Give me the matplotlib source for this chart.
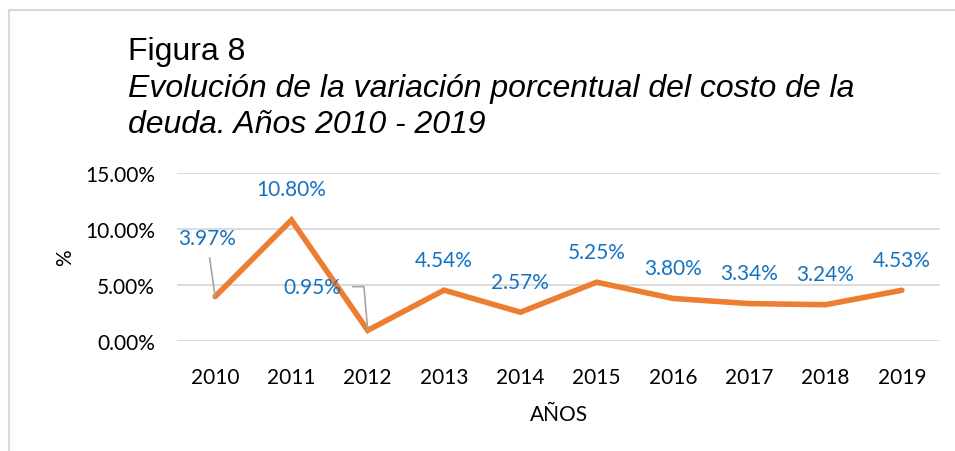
import matplotlib
matplotlib.use('Agg')
import matplotlib.pyplot as plt
from matplotlib.lines import Line2D

# datos de la figura 8
anios = ['2010', '2011', '2012', '2013', '2014', '2015', '2016', '2017', '2018', '2019']
variacion = [3.97, 10.80, 0.95, 4.54, 2.57, 5.25, 3.80, 3.34, 3.24, 4.53]
etiquetas = ['3.97%', '10.80%', '0.95%', '4.54%', '2.57%', '5.25%', '3.80%', '3.34%', '3.24%', '4.53%']
y_ticks = [0, 5, 10, 15]
y_tick_labels = ['0.00%', '5.00%', '10.00%', '15.00%']

NARANJA = '#ED7D31'
AZUL = '#1572C2'
GRIS = '#D9D9D9'
FS = 15

fig = plt.figure(figsize=(9.55, 4.52), dpi=100)
W, H = 955, 452

# marco del grafico
fig.add_artist(Line2D([9 / W, 1], [1 - 10.5 / H, 1 - 10.5 / H], color=GRIS, lw=1.5))
fig.add_artist(Line2D([9 / W, 9 / W], [0, 1 - 10.5 / H], color=GRIS, lw=1.5))

# titulo
fig.text(128 / W, 1 - 60 / H, 'Figura 8', fontsize=23, family='Liberation Sans')
fig.text(128 / W, 1 - 97 / H, 'Evolución de la variación porcentual del costo de la',
         fontsize=23, family='Liberation Sans', style='italic')
fig.text(128 / W, 1 - 133 / H, 'deuda. Años 2010 - 2019',
         fontsize=23, family='Liberation Sans', style='italic')

ax = fig.add_axes([177 / W, 1 - 342 / H, (940 - 177) / W, (342 - 174) / H])
x = list(range(len(anios)))
ax.plot(x, variacion, color=NARANJA, lw=4, solid_capstyle='round', solid_joinstyle='miter', zorder=3)

ax.set_xlim(-0.5, len(anios) - 0.5)
ax.set_ylim(0, 15)
ax.set_yticks(y_ticks)
ax.set_yticklabels(y_tick_labels)
ax.set_xticks(x)
ax.set_xticklabels(anios)
for s in ax.spines.values():
    s.set_visible(False)
ax.grid(axis='y', color=GRIS, lw=1.3)
ax.set_axisbelow(True)
ax.tick_params(length=0, labelsize=FS)
for lab in ax.get_xticklabels() + ax.get_yticklabels():
    lab.set_family('Lato')
ax.tick_params(axis='x', pad=19)
ax.tick_params(axis='y', pad=16)

ax.set_xlabel('AÑOS', fontsize=FS, family='Lato', labelpad=12)
ax.set_ylabel('%', fontsize=FS, family='Lato', labelpad=7)

# etiquetas de datos
for i, (v, t) in enumerate(zip(variacion, etiquetas)):
    if i == 0:
        ax.annotate(t, xy=(i, v), xytext=(-6, 42), textcoords='offset points',
                    ha='center', va='center', color=AZUL, fontsize=FS, family='Lato',
                    arrowprops=dict(arrowstyle='-', color='#A6A6A6', lw=1.2,
                                    shrinkA=5, shrinkB=0))
    elif i == 2:
        ax.annotate(t, xy=(i, v), xytext=(-40, 31), textcoords='offset points',
                    ha='center', va='center', color=AZUL, fontsize=FS, family='Lato')
        ax.annotate('', xy=(i, v), xytext=(-11, 31.5), textcoords='offset points',
                    arrowprops=dict(arrowstyle='-', color='#A6A6A6', lw=1.2,
                                    connectionstyle='angle,angleA=0,angleB=95,rad=0',
                                    shrinkA=0, shrinkB=0))
    else:
        ax.annotate(t, xy=(i, v), xytext=(0, 22), textcoords='offset points',
                    ha='center', va='center', color=AZUL, fontsize=FS, family='Lato')

fig.savefig('out.png', dpi=100)
